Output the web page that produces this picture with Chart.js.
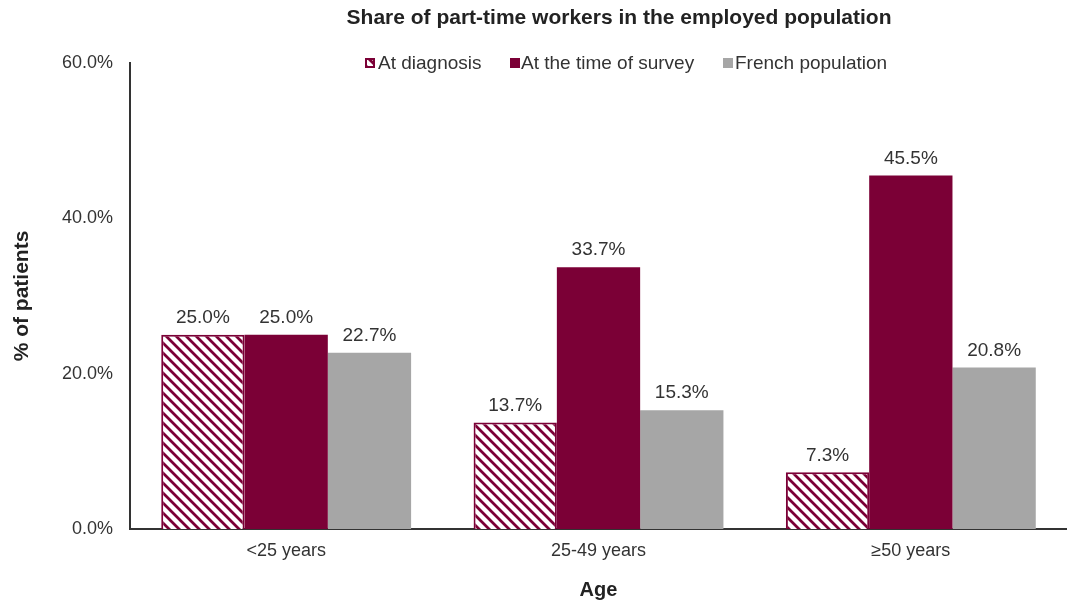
<!DOCTYPE html>
<html><head><meta charset="utf-8">
<script src="https://cdn.jsdelivr.net/npm/chart.js@4.4.1/dist/chart.umd.min.js"></script>
<style>html,body{margin:0;padding:0;background:#fff}#wrap{width:1067px;height:602px}</style>
</head><body><div id="wrap"><canvas id="c" width="1067" height="602"></canvas></div>
<script>
const categories = ['<25 years', '25-49 years', '\u226550 years'];
const atDiagnosis = [25.0, 13.7, 7.3];
const atSurvey = [25.0, 33.7, 45.5];
const frenchPop = [22.7, 15.3, 20.8];
const seriesNames = ['At diagnosis', 'At the time of survey', 'French population'];
const yTicks = [0, 20, 40, 60];
const titleText = 'Share of part-time workers in the employed population';

const MAROON = '#7b0036';
const GRAY = '#a6a6a6';
const FONT = '"Liberation Sans", Arial, sans-serif';

function makeHatch() {
  const s = 10;
  const p = document.createElement('canvas');
  p.width = s; p.height = s;
  const g = p.getContext('2d');
  g.fillStyle = '#fff'; g.fillRect(0, 0, s, s);
  g.strokeStyle = MAROON; g.lineWidth = 2.8;
  g.beginPath();
  g.moveTo(-1, -1); g.lineTo(s + 1, s + 1);
  g.moveTo(-1, s - 1); g.lineTo(1, s + 1);
  g.moveTo(s - 1, -1); g.lineTo(s + 1, 1);
  g.stroke();
  return document.getElementById('c').getContext('2d').createPattern(p, 'repeat');
}
const hatch = makeHatch();

const overlay = {
  id: 'overlay',
  afterDatasetsDraw(chart) {
    const ctx = chart.ctx;
    ctx.save();
    ctx.font = '19px ' + FONT;
    ctx.fillStyle = '#333';
    ctx.textAlign = 'center';
    ctx.textBaseline = 'middle';
    chart.data.datasets.forEach((ds, i) => {
      chart.getDatasetMeta(i).data.forEach((bar, j) => {
        ctx.fillText(ds.data[j].toFixed(1) + '%', bar.x, bar.y - 17);
      });
    });
    ctx.font = 'bold 21px ' + FONT;
    ctx.fillStyle = '#222';
    ctx.fillText(titleText, 619, 18);
    ctx.font = '19px ' + FONT;
    ctx.textAlign = 'left';
    const items = [
      {x: 365, tx: 378, fill: hatch, border: MAROON},
      {x: 510, tx: 521, fill: MAROON, border: MAROON},
      {x: 723, tx: 735, fill: GRAY, border: GRAY}
    ];
    const ly = 63;
    items.forEach((it, i) => {
      ctx.fillStyle = it.fill;
      ctx.fillRect(it.x, ly - 5, 10, 10);
      ctx.strokeStyle = it.border; ctx.lineWidth = 2;
      ctx.strokeRect(it.x + 1, ly - 4, 8, 8);
      ctx.fillStyle = '#333';
      ctx.fillText(seriesNames[i], it.tx, ly + 1);
    });
    ctx.restore();
  }
};

new Chart(document.getElementById('c'), {
  type: 'bar',
  data: {
    labels: categories,
    datasets: [
      {label: seriesNames[0], data: atDiagnosis, backgroundColor: hatch, borderColor: MAROON, borderWidth: 2, borderSkipped: 'bottom'},
      {label: seriesNames[1], data: atSurvey, backgroundColor: MAROON, borderWidth: 0},
      {label: seriesNames[2], data: frenchPop, backgroundColor: GRAY, borderWidth: 0}
    ]
  },
  options: {
    responsive: false,
    animation: false,
    devicePixelRatio: 1,
    layout: {padding: {top: 63, right: 0, bottom: 0, left: 0}},
    plugins: {legend: {display: false}, title: {display: false}, tooltip: {enabled: false}},
    datasets: {bar: {categoryPercentage: 0.8, barPercentage: 1.0}},
    scales: {
      x: {
        grid: {display: false, drawTicks: false},
        border: {display: true, color: '#333', width: 2},
        ticks: {font: {family: FONT, size: 18}, color: '#333', padding: 11},
        title: {display: true, text: 'Age', font: {family: FONT, size: 20, weight: 'bold'}, color: '#222', padding: {top: 8, bottom: 0}},
        afterFit(s) { s.height = 73; }
      },
      y: {
        min: 0, max: 60,
        afterBuildTicks(s) { s.ticks = yTicks.map(v => ({value: v})); },
        grid: {display: false, drawTicks: false},
        border: {display: true, color: '#333', width: 2},
        ticks: {font: {family: FONT, size: 18}, color: '#333', padding: 17, callback: v => v.toFixed(1) + '%'},
        title: {display: true, text: '% of patients', font: {family: FONT, size: 21, weight: 'bold'}, color: '#222', padding: {top: 10, bottom: 0}},
        afterFit(s) { s.width = 130; }
      }
    }
  },
  plugins: [overlay]
});
</script></body></html>
